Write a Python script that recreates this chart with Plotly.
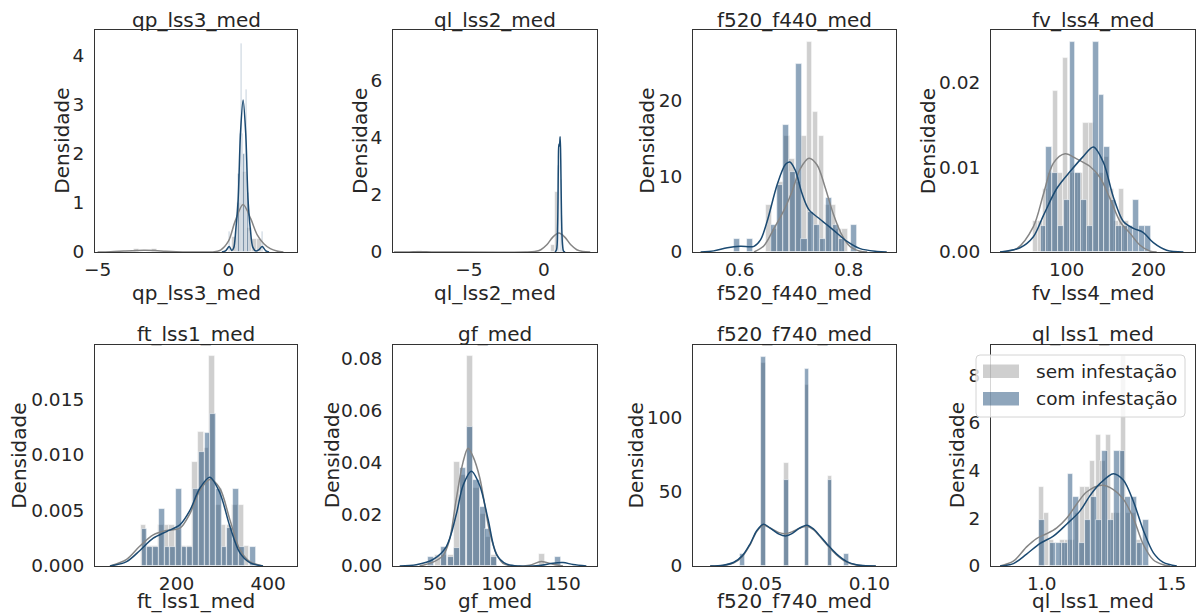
import plotly.graph_objects as go

# ------------------------------------------------------------------ data
titles = ["qp_lss3_med", "ql_lss2_med", "f520_f440_med", "fv_lss4_med",
          "ft_lss1_med", "gf_med", "f520_f740_med", "ql_lss1_med"]
series_names = ["sem infestação", "com infestação"]
y_label = "Densidade"

# histogram bin widths per panel (sem / com)
bin_width_sem = [0.19, 0.29, 0.0107, 6.2, 12.3, 4.85, 0.0023, 0.0197]
bin_width_com = [0.05, 0.03, 0.0113, 7.1, 12.5, 4.85, 0.0023, 0.0222]

# --- qp_lss3_med
qp_lss3_sem_x = [-3.53, -2.84, 0.24, 0.43, 0.62, 0.81, 1.00, 1.19]
qp_lss3_sem_h = [0.07, 0.07, 0.30, 1.00, 1.64, 0.50, 0.26, 0.26]
qp_lss3_com_x = [0.05, 0.30, 0.35, 0.40, 0.45, 0.50, 0.55, 0.60, 0.65, 0.70, 0.75, 0.80, 1.30]
qp_lss3_com_h = [0.4, 0.4, 0.8, 1.6, 2.4, 4.25, 2.4, 2.0, 1.6, 3.3, 1.2, 0.4, 0.4]
qp_lss3_sem_kde_x = [-5.0, -4.5, -4.0, -3.5, -3.2, -2.8, -2.4, -2.0, -1.5, -1.0, -0.6, -0.3, 0.0,
                     0.25, 0.56, 0.85, 1.1, 1.35, 1.6, 1.85, 2.1]
qp_lss3_sem_kde_y = [0.0, 0.005, 0.02, 0.033, 0.035, 0.03, 0.015, 0.005, 0.0, 0.002, 0.0, 0.04, 0.22,
                     0.62, 0.97, 0.68, 0.35, 0.17, 0.07, 0.02, 0.0]
qp_lss3_com_kde_x = [-0.25, -0.1, 0.03, 0.13, 0.2, 0.28, 0.37, 0.46, 0.56, 0.66, 0.75, 0.84, 0.93,
                     1.05, 1.17, 1.29, 1.42, 1.55]
qp_lss3_com_kde_y = [0.0, 0.03, 0.11, 0.03, 0.08, 0.45, 1.06, 2.42, 3.1, 2.42, 1.06, 0.45, 0.1,
                     0.02, 0.05, 0.11, 0.03, 0.0]

# --- ql_lss2_med
ql_lss2_sem_x = [-8.3, 0.62, 0.91, 1.20]
ql_lss2_sem_h = [0.03, 0.25, 2.1, 0.6]
ql_lss2_com_x = [0.93, 0.96, 0.99, 1.02, 1.05, 1.09, 1.14, 1.17, 1.20, 1.26]
ql_lss2_com_h = [0.5, 1.5, 3.0, 5.0, 3.0, 7.34, 6.1, 2.5, 1.0, 0.5]
ql_lss2_sem_kde_x = [-10.0, -9.0, -8.3, -7.5, -6.5, -1.2, -0.6, -0.2, 0.2, 0.6, 1.0, 1.4, 1.8,
                     2.2, 2.6, 3.1]
ql_lss2_sem_kde_y = [0.0, 0.004, 0.006, 0.004, 0.0, 0.0, 0.02, 0.08, 0.25, 0.52, 0.66, 0.52, 0.25,
                     0.08, 0.02, 0.0]
ql_lss2_com_kde_x = [0.75, 0.85, 0.92, 0.97, 1.0, 1.04, 1.09, 1.13, 1.18, 1.24, 1.32, 1.42]
ql_lss2_com_kde_y = [0.0, 0.08, 0.9, 3.0, 3.76, 3.7, 4.02, 3.2, 1.3, 0.3, 0.03, 0.0]

# --- f520_f440_med
f520_f440_sem_x = [0.6535, 0.664, 0.675, 0.686, 0.696, 0.707, 0.718, 0.728, 0.739, 0.750,
                   0.761, 0.771, 0.782, 0.793]
f520_f440_sem_h = [6.2, 3.1, 9.2, 15.4, 12.3, 9.2, 15.4, 27.8, 18.5, 15.4, 6.2, 6.2, 3.1, 3.1]
f520_f440_com_x = [0.595, 0.618, 0.663, 0.674, 0.685, 0.697, 0.708, 0.719, 0.731, 0.742, 0.753,
                   0.764, 0.776, 0.787, 0.810]
f520_f440_com_h = [1.77, 1.77, 3.54, 8.85, 16.8, 10.6, 24.8, 1.77, 5.3, 3.54, 1.77, 7.1, 3.54,
                   1.77, 3.54]
f520_f440_sem_kde_x = [0.626, 0.644, 0.662, 0.681, 0.696, 0.711, 0.727, 0.742, 0.757, 0.772,
                       0.788, 0.803, 0.821, 0.834]
f520_f440_sem_kde_y = [0.0, 0.8, 3.0, 5.5, 8.0, 11.0, 12.4, 11.5, 8.5, 5.0, 2.2, 0.7, 0.1, 0.0]
f520_f440_com_kde_x = [0.528, 0.552, 0.577, 0.601, 0.626, 0.638, 0.650, 0.669, 0.684, 0.692,
                       0.702, 0.714, 0.727, 0.748, 0.772, 0.797, 0.821, 0.852, 0.870]
f520_f440_com_kde_y = [0.0, 0.15, 0.55, 0.75, 0.75, 1.6, 4.0, 9.0, 11.6, 11.9, 10.8, 7.8, 5.6,
                       4.3, 2.9, 1.4, 0.45, 0.08, 0.0]

# --- fv_lss4_med
fv_lss4_sem_x = [61.6, 67.8, 74.0, 80.2, 86.4, 92.6, 98.8, 105.0, 111.2, 117.4, 123.6, 129.8,
                 136.0, 142.2, 148.4, 154.6, 160.8, 167.0, 173.2]
fv_lss4_sem_h = [0.0037, 0.0037, 0.0075, 0.0093, 0.019, 0.0093, 0.0229, 0.0093, 0.0093, 0.0093,
                 0.0152, 0.0152, 0.0093, 0.0093, 0.0112, 0.0075, 0.0037, 0.0075, 0.0037]
fv_lss4_com_x = [71.5, 78.6, 85.7, 92.8, 99.9, 107.0, 114.1, 121.2, 128.3, 135.4, 142.5, 149.6,
                 156.7, 163.8, 170.9, 178.0, 185.1, 192.2, 199.3]
fv_lss4_com_h = [0.0031, 0.0124, 0.0093, 0.0031, 0.0062, 0.0248, 0.0093, 0.0062, 0.0031, 0.0248,
                 0.0186, 0.0124, 0.0062, 0.0031, 0.0031, 0.0031, 0.0062, 0.0031, 0.0031]
fv_lss4_sem_kde_x = [18.4, 38.8, 59.2, 71.4, 83.7, 98.0, 112.2, 128.6, 140.8, 153.1, 165.3,
                     177.6, 189.8, 202.0, 210.2]
fv_lss4_sem_kde_y = [0.0, 0.0004, 0.003, 0.0068, 0.0105, 0.0116, 0.011, 0.0101, 0.0088, 0.0063,
                     0.0036, 0.0022, 0.0008, 0.0001, 0.0]
fv_lss4_com_kde_x = [18.4, 42.9, 59.2, 71.4, 87.8, 104.1, 120.4, 132.7, 144.9, 157.1, 169.4,
                     181.6, 193.9, 206.1, 222.4, 242.9]
fv_lss4_com_kde_y = [0.0, 0.0005, 0.0018, 0.0043, 0.0075, 0.0095, 0.0113, 0.0124, 0.0106, 0.0065,
                     0.0036, 0.0028, 0.0023, 0.0011, 0.0002, 0.0]

# --- ft_lss1_med
ft_lss1_sem_x = [128.0, 140.5, 153.0, 165.5, 178.0, 190.5, 203.0, 215.5, 228.0, 240.5, 253.0,
                 265.5, 278.0, 290.5, 303.0, 315.5, 328.0, 340.5, 353.0]
ft_lss1_sem_h = [0.0037, 0.0018, 0.0018, 0.0037, 0.0037, 0.0037, 0.0032, 0.0018, 0.0018, 0.0094,
                 0.0121, 0.0106, 0.0189, 0.0055, 0.0037, 0.0037, 0.0055, 0.0055, 0.0018]
ft_lss1_com_x = [130.0, 142.5, 155.0, 167.5, 180.0, 192.5, 205.0, 217.5, 230.0, 242.5, 255.0,
                 267.5, 280.0, 292.5, 305.0, 317.5, 330.0, 342.5, 367.5]
ft_lss1_com_h = [0.0033, 0.0017, 0.0017, 0.0051, 0.0017, 0.0017, 0.0069, 0.0017, 0.0017, 0.0069,
                 0.0103, 0.012, 0.0137, 0.0069, 0.0017, 0.0034, 0.0069, 0.0017, 0.0017]
ft_lss1_sem_kde_x = [54.5, 90.9, 120.0, 149.1, 178.2, 207.3, 229.1, 250.9, 272.7, 294.5, 316.4,
                     338.2, 360.0, 389.0]
ft_lss1_sem_kde_y = [0.0, 0.0006, 0.0018, 0.0028, 0.0032, 0.0034, 0.0047, 0.0068, 0.0078, 0.007,
                     0.0042, 0.0015, 0.0004, 0.0]
ft_lss1_com_kde_x = [54.5, 90.9, 120.0, 149.1, 178.2, 207.3, 229.1, 250.9, 272.7, 294.5, 316.4,
                     338.2, 360.0, 389.0]
ft_lss1_com_kde_y = [0.0, 0.0004, 0.0014, 0.0025, 0.0031, 0.0037, 0.005, 0.007, 0.008, 0.0066,
                     0.0036, 0.0012, 0.0003, 0.0]

# --- gf_med
gf_sem_x = [52.3, 57.5, 62.5, 67.1, 71.8, 77.3, 82.5, 87.4, 91.8, 96.2, 133.6]
gf_sem_h = [0.0044, 0.0044, 0.0044, 0.0401, 0.035, 0.0809, 0.03, 0.02, 0.011, 0.0044, 0.0048]
gf_com_x = [47.1, 57.5, 62.5, 67.1, 71.8, 77.3, 82.5, 87.4, 91.8, 96.2, 146.4]
gf_com_h = [0.0035, 0.0072, 0.0035, 0.0071, 0.0376, 0.0534, 0.033, 0.0228, 0.0144, 0.0035, 0.0035]
gf_sem_kde_x = [38.3, 48.7, 56.5, 61.5, 66.9, 72.1, 76.0, 80.0, 85.1, 92.9, 98.1, 103.2, 111.0,
                124.0, 133.1, 142.2, 150.0]
gf_sem_kde_y = [0.0, 0.0015, 0.004, 0.01, 0.026, 0.04, 0.0453, 0.042, 0.034, 0.013, 0.0048,
                0.001, 0.0, 0.0003, 0.0017, 0.0007, 0.0]
gf_com_kde_x = [22.7, 35.7, 48.7, 59.1, 66.9, 72.1, 78.6, 85.1, 91.6, 98.1, 105.8, 116.2, 131.8,
                142.2, 150.0, 157.8, 168.2]
gf_com_kde_y = [0.0, 0.0005, 0.0025, 0.0075, 0.02, 0.031, 0.0365, 0.031, 0.018, 0.0045, 0.0008,
                0.0, 0.0002, 0.0011, 0.0013, 0.0006, 0.0]

# --- f520_f740_med
f520_f740_sem_x = [0.051, 0.0616, 0.071, 0.0817]
f520_f740_sem_h = [137.0, 69.6, 122.0, 60.6]
f520_f740_com_x = [0.041, 0.051, 0.0616, 0.071, 0.0817, 0.0895]
f520_f740_com_h = [8.0, 141.0, 58.0, 133.0, 58.0, 8.0]
f520_f740_sem_kde_x = [0.026, 0.032, 0.037, 0.041, 0.0446, 0.0477, 0.0508, 0.054, 0.058, 0.0611,
                       0.064, 0.0675, 0.0709, 0.074, 0.0775, 0.0802, 0.0848, 0.0895, 0.094,
                       0.0985, 0.103]
f520_f740_sem_kde_y = [0.0, 0.4, 2.2, 6.5, 14.5, 23.5, 27.5, 25.5, 22.5, 21.8, 23.0, 25.5, 26.8,
                       24.5, 19.0, 14.5, 7.5, 2.6, 0.6, 0.05, 0.0]
f520_f740_com_kde_x = [0.026, 0.032, 0.037, 0.041, 0.0446, 0.0477, 0.0508, 0.054, 0.058, 0.0611,
                       0.064, 0.0675, 0.0709, 0.074, 0.0775, 0.0802, 0.0848, 0.0895, 0.094,
                       0.0985, 0.103]
f520_f740_com_kde_y = [0.0, 0.5, 2.5, 7.0, 15.0, 24.0, 28.2, 25.5, 21.5, 20.3, 21.8, 25.5, 27.5,
                       25.0, 19.5, 15.0, 8.0, 3.0, 0.8, 0.1, 0.0]

# --- ql_lss1_med
ql_lss1_sem_x = [1.000, 1.020, 1.039, 1.059, 1.079, 1.098, 1.118, 1.138, 1.158, 1.177, 1.197,
                 1.217, 1.236, 1.256, 1.276, 1.296, 1.315, 1.335, 1.355, 1.374]
ql_lss1_sem_h = [3.3, 2.2, 1.1, 0.0, 1.1, 1.1, 1.1, 2.2, 3.3, 3.3, 4.4, 5.5, 4.4, 5.5, 2.2, 2.2,
                 8.8, 2.2, 2.2, 1.1]
ql_lss1_com_x = [1.000, 1.022, 1.044, 1.067, 1.089, 1.111, 1.133, 1.155, 1.178, 1.200, 1.222,
                 1.244, 1.266, 1.289, 1.311, 1.333, 1.355, 1.378, 1.400]
ql_lss1_com_h = [1.92, 0.0, 0.96, 0.96, 0.96, 3.84, 2.88, 0.96, 1.92, 2.88, 1.92, 4.8, 1.92, 4.8,
                 4.8, 2.88, 2.88, 0.96, 1.92]
ql_lss1_sem_kde_x = [0.84, 0.891, 0.942, 0.98, 1.019, 1.058, 1.096, 1.135, 1.173, 1.231, 1.276,
                     1.314, 1.353, 1.391, 1.43, 1.468, 1.494]
ql_lss1_sem_kde_y = [0.0, 0.2, 0.8, 1.15, 1.35, 1.6, 2.0, 2.6, 3.1, 3.38, 3.2, 2.8, 2.0, 0.9,
                     0.25, 0.05, 0.0]
ql_lss1_com_kde_x = [0.84, 0.891, 0.942, 0.994, 1.045, 1.096, 1.147, 1.186, 1.224, 1.276, 1.314,
                     1.353, 1.391, 1.43, 1.468, 1.52]
ql_lss1_com_kde_y = [0.0, 0.1, 0.5, 0.95, 1.25, 1.75, 2.3, 2.95, 3.45, 3.87, 3.6, 2.7, 1.5, 0.55,
                     0.15, 0.0]

# axis ranges and tick labels
x_ranges = [[-5.1, 2.62], [-10.07, 3.55], [0.514, 0.887], [7.3, 257.1],
            [21.8, 463.3], [17.5, 176.5], [0.018, 0.1124], [0.805, 1.59]]
y_ranges = [[0, 4.53], [0, 7.75], [0, 29.36], [0, 0.02623],
            [0, 0.0199], [0, 0.0851], [0, 149.1], [0, 9.26]]
x_tickvals = [[-5, 0], [-5, 0], [0.6, 0.8], [100, 200], [200, 400], [50, 100, 150],
              [0.05, 0.10], [1.0, 1.5]]
x_ticktext = [["−5", "0"], ["−5", "0"], ["0.6", "0.8"], ["100", "200"], ["200", "400"],
              ["50", "100", "150"], ["0.05", "0.10"], ["1.0", "1.5"]]
y_tickvals = [[0, 1, 2, 3, 4], [0, 2, 4, 6], [0, 10, 20], [0, 0.01, 0.02],
              [0, 0.005, 0.010, 0.015], [0, 0.02, 0.04, 0.06, 0.08], [0, 50, 100],
              [0, 2, 4, 6, 8]]
y_ticktext = [["0", "1", "2", "3", "4"], ["0", "2", "4", "6"], ["0", "10", "20"],
              ["0.00", "0.01", "0.02"], ["0.000", "0.005", "0.010", "0.015"],
              ["0.00", "0.02", "0.04", "0.06", "0.08"], ["0", "50", "100"],
              ["0", "2", "4", "6", "8"]]

panel_data = [
    (qp_lss3_sem_x, qp_lss3_sem_h, qp_lss3_com_x, qp_lss3_com_h,
     qp_lss3_sem_kde_x, qp_lss3_sem_kde_y, qp_lss3_com_kde_x, qp_lss3_com_kde_y),
    (ql_lss2_sem_x, ql_lss2_sem_h, ql_lss2_com_x, ql_lss2_com_h,
     ql_lss2_sem_kde_x, ql_lss2_sem_kde_y, ql_lss2_com_kde_x, ql_lss2_com_kde_y),
    (f520_f440_sem_x, f520_f440_sem_h, f520_f440_com_x, f520_f440_com_h,
     f520_f440_sem_kde_x, f520_f440_sem_kde_y, f520_f440_com_kde_x, f520_f440_com_kde_y),
    (fv_lss4_sem_x, fv_lss4_sem_h, fv_lss4_com_x, fv_lss4_com_h,
     fv_lss4_sem_kde_x, fv_lss4_sem_kde_y, fv_lss4_com_kde_x, fv_lss4_com_kde_y),
    (ft_lss1_sem_x, ft_lss1_sem_h, ft_lss1_com_x, ft_lss1_com_h,
     ft_lss1_sem_kde_x, ft_lss1_sem_kde_y, ft_lss1_com_kde_x, ft_lss1_com_kde_y),
    (gf_sem_x, gf_sem_h, gf_com_x, gf_com_h,
     gf_sem_kde_x, gf_sem_kde_y, gf_com_kde_x, gf_com_kde_y),
    (f520_f740_sem_x, f520_f740_sem_h, f520_f740_com_x, f520_f740_com_h,
     f520_f740_sem_kde_x, f520_f740_sem_kde_y, f520_f740_com_kde_x, f520_f740_com_kde_y),
    (ql_lss1_sem_x, ql_lss1_sem_h, ql_lss1_com_x, ql_lss1_com_h,
     ql_lss1_sem_kde_x, ql_lss1_sem_kde_y, ql_lss1_com_kde_x, ql_lss1_com_kde_y),
]

# ------------------------------------------------------------------ style / layout
W, H = 1197, 615
FONT = "DejaVu Sans"
TXT = "#262626"
GREY_BAR = "rgba(136,136,136,0.40)"
BLUE_BAR = "rgba(31,78,121,0.50)"
GREY_LINE = "#858585"
BLUE_LINE = "#1b4a72"
EDGE = "rgba(255,255,255,0.65)"

col_px = [(95, 297), (393, 597), (693, 896), (991, 1195)]
row_px = [(30, 252), (345, 566)]
title_y_px = [20, 333.5]
xlabel_y_px = [293, 601]
ylabel_x_px = [61.7, 360, 646.7, 928.3, 18.3, 331.7, 635, 956.7]


def fx(px):
    return px / W


def fy(py):
    return 1 - py / H


fig = go.Figure()
annotations = []
layout_axes = {}

for i in range(8):
    r, c = divmod(i, 4)
    ax = "" if i == 0 else str(i + 1)
    sx, sh, cx, ch, skx, sky, ckx, cky = panel_data[i]

    fig.add_trace(go.Bar(x=sx, y=sh, width=[bin_width_sem[i]] * len(sx),
                         marker=dict(color=GREY_BAR, line=dict(color=EDGE, width=0.8)),
                         name=series_names[0], showlegend=False,
                         xaxis="x" + ax, yaxis="y" + ax))
    fig.add_trace(go.Bar(x=cx, y=ch, width=[bin_width_com[i]] * len(cx),
                         marker=dict(color=BLUE_BAR, line=dict(color=EDGE, width=0.8)),
                         name=series_names[1], showlegend=False,
                         xaxis="x" + ax, yaxis="y" + ax))
    fig.add_trace(go.Scatter(x=skx, y=sky, mode="lines",
                             line=dict(color=GREY_LINE, width=1.5, shape="spline", smoothing=0.9),
                             name=series_names[0], showlegend=False,
                             xaxis="x" + ax, yaxis="y" + ax))
    fig.add_trace(go.Scatter(x=ckx, y=cky, mode="lines",
                             line=dict(color=BLUE_LINE, width=1.5, shape="spline", smoothing=0.9),
                             name=series_names[1], showlegend=False,
                             xaxis="x" + ax, yaxis="y" + ax))

    x0, x1 = col_px[c]
    ytop, ybot = row_px[r]
    common = dict(showline=True, mirror=True, linecolor="#333333", linewidth=1.2,
                  showgrid=False, zeroline=False, ticks="", automargin=False,
                  tickfont=dict(family=FONT, size=18.5, color=TXT))
    layout_axes["xaxis" + ax] = dict(common, domain=[fx(x0), fx(x1)], range=x_ranges[i],
                                     tickmode="array", tickvals=x_tickvals[i],
                                     ticktext=x_ticktext[i], anchor="y" + ax,
                                     ticklabelstandoff=1)
    layout_axes["yaxis" + ax] = dict(common, domain=[fy(ybot), fy(ytop)], range=y_ranges[i],
                                     tickmode="array", tickvals=y_tickvals[i],
                                     ticktext=y_ticktext[i], anchor="x" + ax,
                                     ticklabelstandoff=6)

    cxp = (x0 + x1) / 2
    annotations.append(dict(text=titles[i], x=fx(cxp), y=fy(title_y_px[r]), xref="paper",
                            yref="paper", showarrow=False, xanchor="center", yanchor="middle",
                            font=dict(family=FONT, size=20, color=TXT)))
    annotations.append(dict(text=titles[i], x=fx(cxp), y=fy(xlabel_y_px[r]), xref="paper",
                            yref="paper", showarrow=False, xanchor="center", yanchor="middle",
                            font=dict(family=FONT, size=20, color=TXT)))
    annotations.append(dict(text=y_label, x=fx(ylabel_x_px[i]), y=fy((ytop + ybot) / 2),
                            xref="paper", yref="paper", showarrow=False, textangle=-90,
                            xanchor="center", yanchor="middle",
                            font=dict(family=FONT, size=20, color=TXT)))

# ---- legend drawn inside the last panel
lx0, lx1, ly0, ly1, rad = 976, 1185, 355, 417, 4
box_path = (f"M {fx(lx0 + rad)},{fy(ly0)} L {fx(lx1 - rad)},{fy(ly0)} "
            f"Q {fx(lx1)},{fy(ly0)} {fx(lx1)},{fy(ly0 + rad)} "
            f"L {fx(lx1)},{fy(ly1 - rad)} Q {fx(lx1)},{fy(ly1)} {fx(lx1 - rad)},{fy(ly1)} "
            f"L {fx(lx0 + rad)},{fy(ly1)} Q {fx(lx0)},{fy(ly1)} {fx(lx0)},{fy(ly1 - rad)} "
            f"L {fx(lx0)},{fy(ly0 + rad)} Q {fx(lx0)},{fy(ly0)} {fx(lx0 + rad)},{fy(ly0)} Z")
shapes = [dict(type="path", path=box_path, xref="paper", yref="paper",
               fillcolor="rgba(255,255,255,0.8)", line=dict(color="#d4d4d4", width=1),
               layer="above")]
legend_rows = [(364.5, 378, 371.2, GREY_BAR), (392, 405.5, 398.8, BLUE_BAR)]
for k, (py0, py1, pyc, col) in enumerate(legend_rows):
    shapes.append(dict(type="rect", xref="paper", yref="paper", x0=fx(983), x1=fx(1019),
                       y0=fy(py1), y1=fy(py0), fillcolor=col, line=dict(width=0),
                       layer="above"))
    annotations.append(dict(text=series_names[k], x=fx(1034), y=fy(pyc), xref="paper",
                            yref="paper", showarrow=False, xanchor="left", yanchor="middle",
                            font=dict(family=FONT, size=18.5, color=TXT)))

fig.update_layout(template="none", width=W, height=H, autosize=False,
                  margin=dict(l=0, r=0, t=0, b=0, pad=0),
                  paper_bgcolor="white", plot_bgcolor="white",
                  barmode="overlay", bargap=0, showlegend=False,
                  annotations=annotations, shapes=shapes,
                  font=dict(family=FONT, color=TXT),
                  **layout_axes)

fig.write_html("out.html",
               config={"displayModeBar": False},
               post_script="document.body.style.margin='0px';"
                           "document.body.style.overflow='hidden';")
